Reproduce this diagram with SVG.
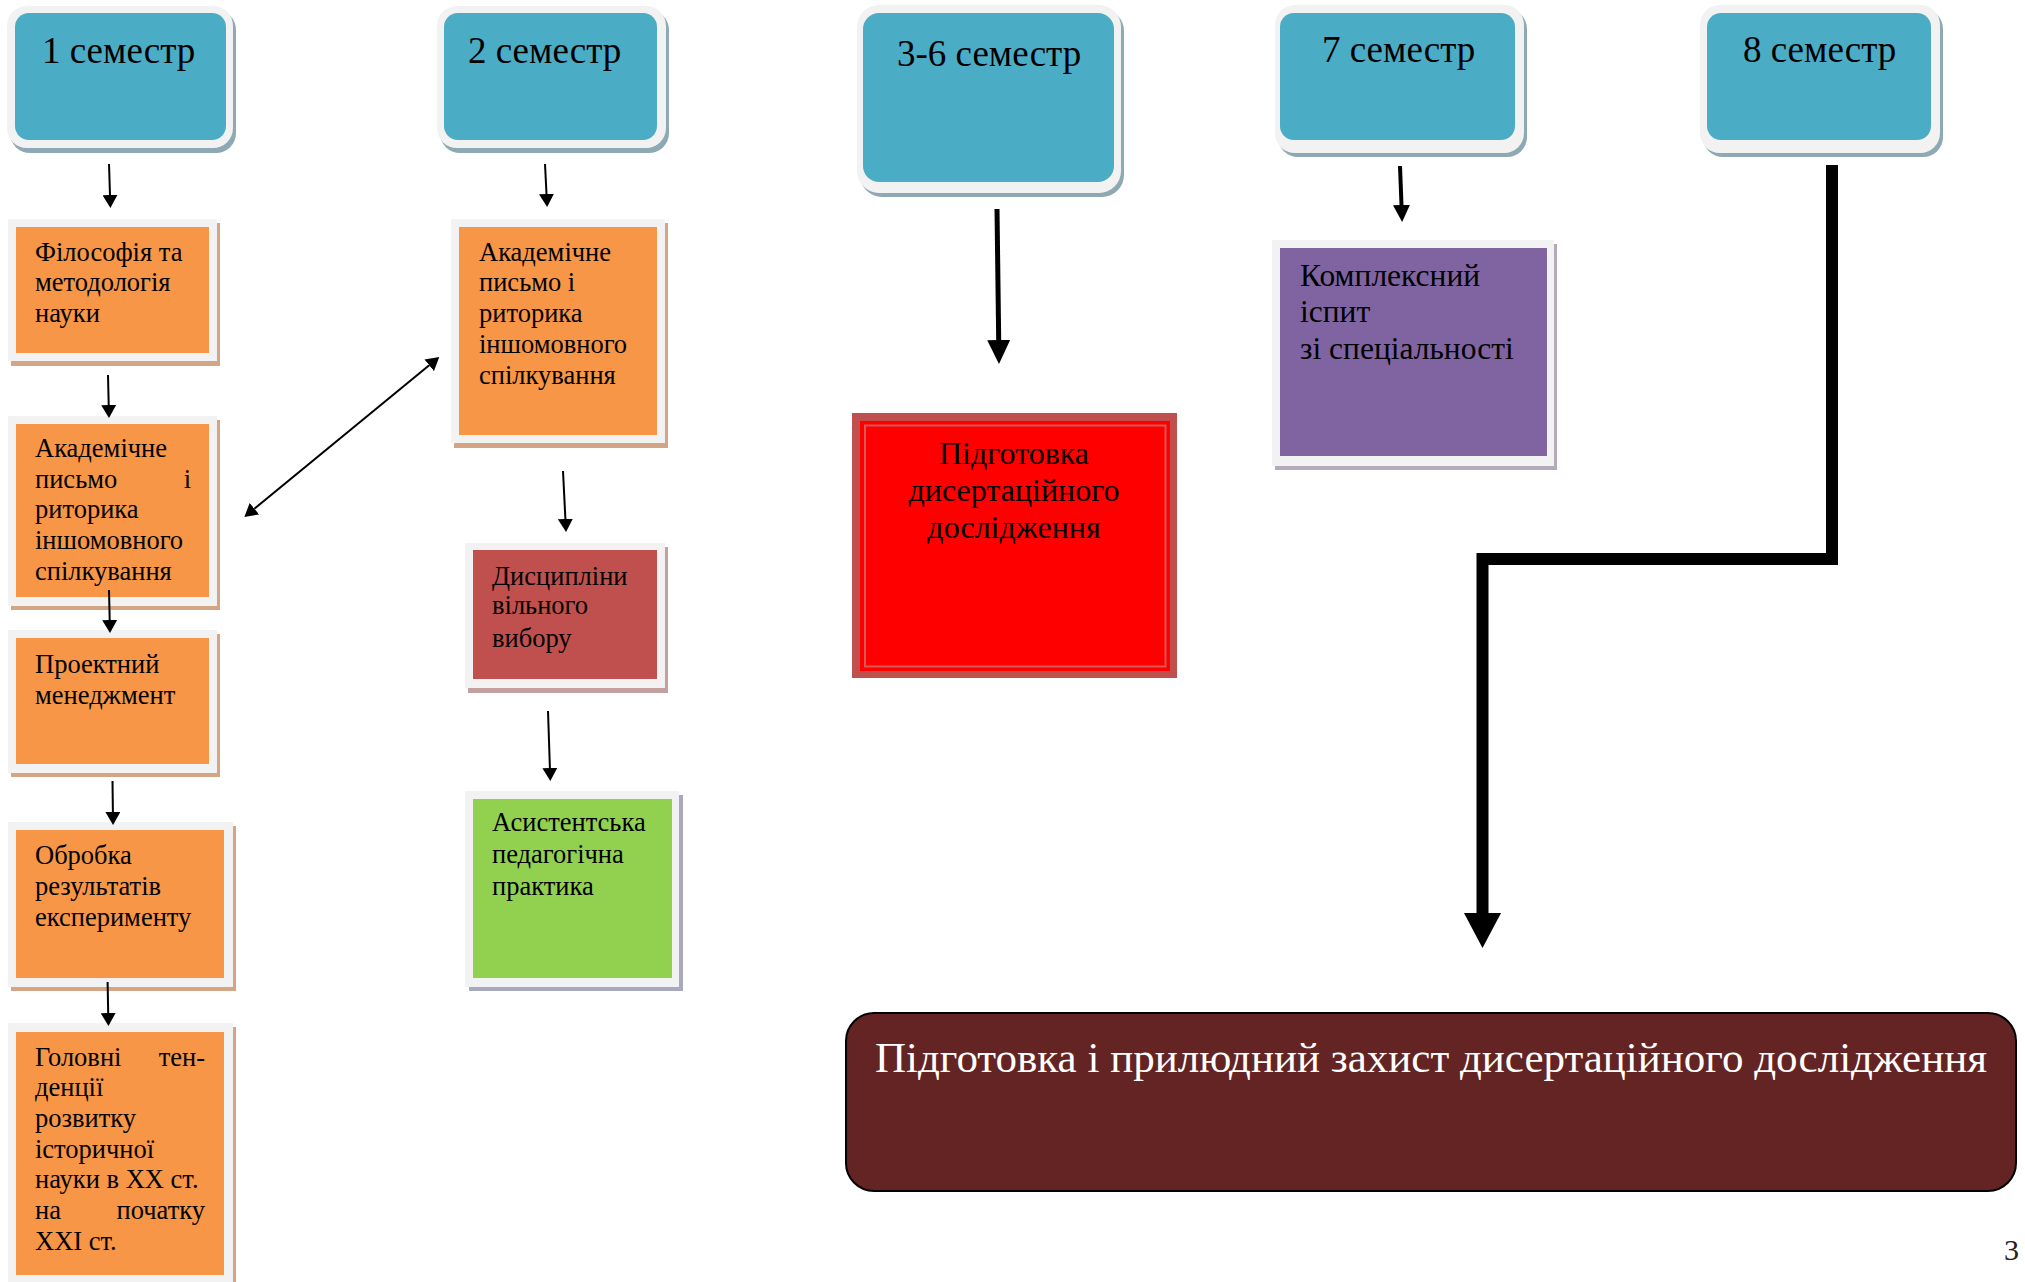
<svg xmlns="http://www.w3.org/2000/svg" width="2025" height="1282" viewBox="0 0 2025 1282">
<style>
  .lbl{font-family:"Liberation Serif","Times New Roman",serif;fill:#000}
  .sem{font-size:37px}
  .t{font-size:26.5px}
  .frame{fill:#F2F2F2}
  .shB{fill:#8DA9B4}
  .shO{fill:#D4A585}
  .shR{fill:#C4A0A0}
  .shG{fill:#A9A8BE}
  .shP{fill:#B3ABBB}
  .blue{fill:#4BACC6}
  .orange{fill:#F79646}
  .thin{stroke:#000;stroke-width:2;fill:none}
</style>
<defs>
  <marker id="ah" markerUnits="userSpaceOnUse" markerWidth="13" markerHeight="15" viewBox="0 0 13 15" refX="0" refY="7.5" orient="auto-start-reverse">
    <path d="M0,0 L13,7.5 L0,15 z" fill="#000"/>
  </marker>
  <marker id="ahM" markerUnits="userSpaceOnUse" markerWidth="17" markerHeight="17" viewBox="0 0 17 17" refX="0" refY="8.5" orient="auto">
    <path d="M0,0 L17,8.5 L0,17 z" fill="#000"/>
  </marker>
  <marker id="ahL" markerUnits="userSpaceOnUse" markerWidth="24" markerHeight="23" viewBox="0 0 24 23" refX="0" refY="11.5" orient="auto">
    <path d="M0,0 L24,11.5 L0,23 z" fill="#000"/>
  </marker>
  <marker id="ahXL" markerUnits="userSpaceOnUse" markerWidth="35" markerHeight="37" viewBox="0 0 35 37" refX="0" refY="18.5" orient="auto">
    <path d="M0,0 L35,18.5 L0,37 z" fill="#000"/>
  </marker>
</defs>
<rect width="2025" height="1282" fill="#fff"/>

<g id="sem1">
  <rect class="shB" x="10" y="10" width="226" height="143" rx="20"/>
  <rect class="frame" x="7" y="6" width="226" height="142" rx="20"/>
  <rect class="blue" x="15" y="13" width="211" height="127" rx="14"/>
  <text class="lbl sem" x="42" y="63">1 семестр</text>
</g>
<g id="sem2">
  <rect class="shB" x="440" y="10" width="229" height="143" rx="20"/>
  <rect class="frame" x="437" y="6" width="229" height="142" rx="20"/>
  <rect class="blue" x="444" y="13" width="213" height="127" rx="14"/>
  <text class="lbl sem" x="468" y="63">2 семестр</text>
</g>
<g id="sem36">
  <rect class="shB" x="860" y="9" width="264" height="188" rx="22"/>
  <rect class="frame" x="857" y="5" width="264" height="188" rx="22"/>
  <rect class="blue" x="863" y="13" width="251" height="169" rx="16"/>
  <text class="lbl sem" x="897" y="66">3-6 семестр</text>
</g>
<g id="sem7">
  <rect class="shB" x="1278" y="9" width="249" height="148" rx="20"/>
  <rect class="frame" x="1275" y="5" width="249" height="148" rx="20"/>
  <rect class="blue" x="1280" y="13" width="235" height="127" rx="14"/>
  <text class="lbl sem" x="1322" y="62">7 семестр</text>
</g>
<g id="sem8">
  <rect class="shB" x="1703" y="9" width="240" height="148" rx="20"/>
  <rect class="frame" x="1700" y="5" width="240" height="148" rx="20"/>
  <rect class="blue" x="1707" y="13" width="224" height="127" rx="14"/>
  <text class="lbl sem" x="1743" y="62">8 семестр</text>
</g>

<g id="philosophy">
  <rect class="shO" x="11" y="223" width="209" height="143"/>
  <rect class="frame" x="8" y="219" width="209" height="142"/>
  <rect class="orange" x="16" y="227" width="193" height="126"/>
  <text class="lbl t" x="35" y="261">Філософія та</text>
  <text class="lbl t" x="35" y="291">методологія</text>
  <text class="lbl t" x="35" y="322">науки</text>
</g>
<g id="academic1">
  <rect class="shO" x="11" y="420" width="209" height="190"/>
  <rect class="frame" x="8" y="416" width="209" height="190"/>
  <rect class="orange" x="16" y="424" width="193" height="173"/>
  <text class="lbl t" x="35" y="457">Академічне</text>
  <text class="lbl t" x="35" y="488">письмо</text>
  <text class="lbl t" x="191" y="488" text-anchor="end">і</text>
  <text class="lbl t" x="35" y="518">риторика</text>
  <text class="lbl t" x="35" y="549">іншомовного</text>
  <text class="lbl t" x="35" y="580">спілкування</text>
</g>
<g id="project">
  <rect class="shO" x="11" y="634" width="209" height="143"/>
  <rect class="frame" x="8" y="630" width="209" height="143"/>
  <rect class="orange" x="16" y="638" width="193" height="126"/>
  <text class="lbl t" x="35" y="673">Проектний</text>
  <text class="lbl t" x="35" y="704">менеджмент</text>
</g>
<g id="processing">
  <rect class="shO" x="11" y="826" width="225" height="165"/>
  <rect class="frame" x="8" y="822" width="225" height="165"/>
  <rect class="orange" x="16" y="830" width="208" height="148"/>
  <text class="lbl t" x="35" y="864">Обробка</text>
  <text class="lbl t" x="35" y="895">результатів</text>
  <text class="lbl t" x="35" y="926">експерименту</text>
</g>
<g id="trends">
  <rect class="shO" x="11" y="1027" width="225" height="260"/>
  <rect class="frame" x="8" y="1023" width="225" height="260"/>
  <rect class="orange" x="16" y="1032" width="208" height="243"/>
  <text class="lbl t" x="35" y="1066">Головні</text>
  <text class="lbl t" x="205" y="1066" text-anchor="end">тен-</text>
  <text class="lbl t" x="35" y="1096">денції</text>
  <text class="lbl t" x="35" y="1127">розвитку</text>
  <text class="lbl t" x="35" y="1158">історичної</text>
  <text class="lbl t" x="35" y="1188">науки в XX ст.</text>
  <text class="lbl t" x="35" y="1219">на</text>
  <text class="lbl t" x="205" y="1219" text-anchor="end">початку</text>
  <text class="lbl t" x="35" y="1250">XXI ст.</text>
</g>

<g id="academic2">
  <rect class="shO" x="454" y="223" width="214" height="225"/>
  <rect class="frame" x="451" y="219" width="214" height="224"/>
  <rect class="orange" x="459" y="227" width="198" height="208"/>
  <text class="lbl t" x="479" y="261">Академічне</text>
  <text class="lbl t" x="479" y="291">письмо і</text>
  <text class="lbl t" x="479" y="322">риторика</text>
  <text class="lbl t" x="479" y="353">іншомовного</text>
  <text class="lbl t" x="479" y="384">спілкування</text>
</g>
<g id="elective">
  <rect class="shR" x="468" y="547" width="200" height="146"/>
  <rect class="frame" x="465" y="543" width="200" height="145"/>
  <rect x="473" y="550" width="184" height="129" fill="#C0504D"/>
  <text class="lbl t" x="492" y="585">Дисципліни</text>
  <text class="lbl t" x="492" y="614">вільного</text>
  <text class="lbl t" x="492" y="647">вибору</text>
</g>
<g id="practice">
  <rect class="shG" x="469" y="795" width="214" height="196"/>
  <rect class="frame" x="465" y="791" width="214" height="196"/>
  <rect x="473" y="799" width="199" height="179" fill="#92D050"/>
  <text class="lbl t" x="492" y="831">Асистентська</text>
  <text class="lbl t" x="492" y="863">педагогічна</text>
  <text class="lbl t" x="492" y="895">практика</text>
</g>

<g id="dissertation">
  <rect x="852" y="413" width="325" height="265" fill="#C0504D"/>
  <rect x="860" y="421" width="310" height="250" fill="#FF0000"/>
  <rect x="865" y="425.5" width="300.5" height="241" fill="none" stroke="#D85856" stroke-width="2"/>
  <text class="lbl" font-size="32" x="1014" y="464" text-anchor="middle">Підготовка</text>
  <text class="lbl" font-size="32" x="1014" y="501" text-anchor="middle">дисертаційного</text>
  <text class="lbl" font-size="32" x="1014" y="538" text-anchor="middle">дослідження</text>
</g>
<g id="exam">
  <rect class="shP" x="1275" y="244" width="282" height="226"/>
  <rect class="frame" x="1272" y="240" width="282" height="226"/>
  <rect x="1280" y="248" width="267" height="208" fill="#8064A2"/>
  <text class="lbl" font-size="31.5" x="1300" y="286">Комплексний</text>
  <text class="lbl" font-size="31.5" x="1300" y="322">іспит</text>
  <text class="lbl" font-size="31.5" x="1300" y="359">зі спеціальності</text>
</g>
<g id="defense">
  <rect x="846" y="1013" width="1170" height="178" rx="28" fill="#632423" stroke="#000" stroke-width="2"/>
  <text class="lbl" font-size="43" x="1431" y="1072" text-anchor="middle" style="fill:#fff">Підготовка і прилюдний захист дисертаційного дослідження</text>
</g>

<g id="connectors">
  <path class="thin" d="M109,164 L110,195" marker-end="url(#ah)"/>
  <path class="thin" d="M545,164 L546.5,194" marker-end="url(#ah)"/>
  <path class="thin" d="M108,375 L108.7,405" marker-end="url(#ah)"/>
  <path class="thin" d="M109,590 L109.7,620" marker-end="url(#ah)"/>
  <path class="thin" d="M112.5,781 L112.9,812" marker-end="url(#ah)"/>
  <path class="thin" d="M107.6,982 L108.2,1013" marker-end="url(#ah)"/>
  <path class="thin" d="M563,471 L565.4,519" marker-end="url(#ah)"/>
  <path class="thin" d="M548,711 L549.9,768" marker-end="url(#ah)"/>
  <path class="thin" d="M254.4,508.7 L429.2,365.3" marker-start="url(#ah)" marker-end="url(#ah)"/>
  <path d="M997,209 L998.7,340" stroke="#000" stroke-width="5" fill="none" marker-end="url(#ahL)"/>
  <path d="M1400,166 L1401.5,205" stroke="#000" stroke-width="4" fill="none" marker-end="url(#ahM)"/>
  <path d="M1832,165 V559 H1482.5 V913" stroke="#000" stroke-width="12" fill="none" stroke-linejoin="miter" marker-end="url(#ahXL)"/>
</g>

<text class="lbl" font-size="30" x="2004" y="1260" style="fill:#222">3</text>
</svg>
